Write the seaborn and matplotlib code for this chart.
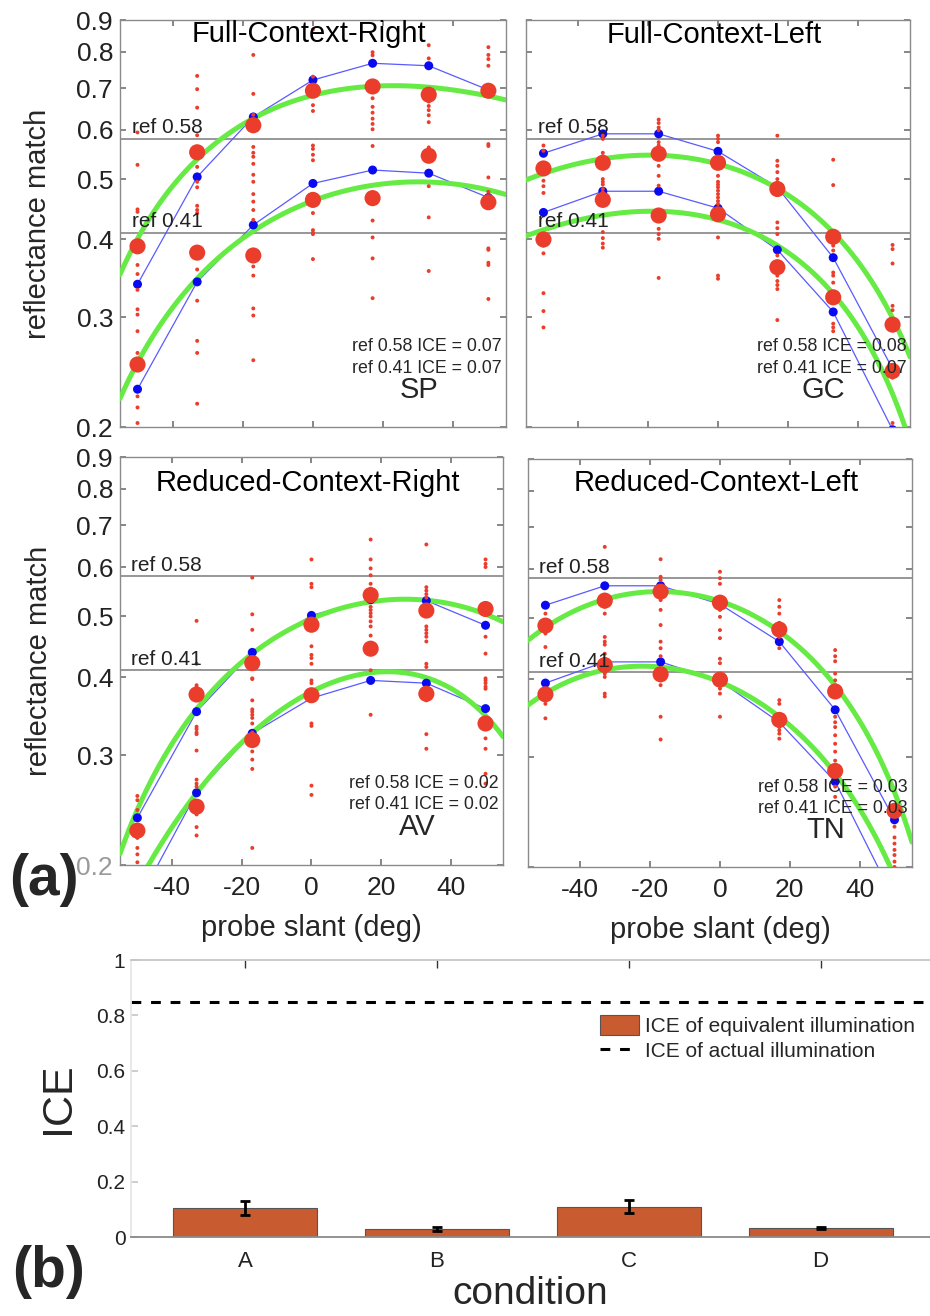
import numpy as np
import pandas as pd
import matplotlib
matplotlib.use("Agg")
import matplotlib.pyplot as plt
import seaborn as sns
from matplotlib.ticker import NullLocator
from matplotlib.patches import Patch
from matplotlib.lines import Line2D

# ---------------- data (a) ----------------
slant = [-50, -33, -17, 0, 17, 33, 50]
fit_slant = [-55, -50, -33, -17, 0, 17, 33, 50, 55]

# SP : Full-Context-Right
sp_blue_hi = [0.339, 0.504, 0.629, 0.721, 0.767, 0.760, 0.695]
sp_blue_lo = [0.230, 0.342, 0.422, 0.492, 0.517, 0.511, 0.467]
sp_red_hi = [0.390, 0.552, 0.610, 0.693, 0.704, 0.683, 0.693]
sp_red_lo = [0.252, 0.381, 0.377, 0.463, 0.466, 0.545, 0.459]
sp_fit_hi = [0.351, 0.399, 0.543, 0.626, 0.677, 0.702, 0.705, 0.688, 0.662]
sp_fit_lo = [0.218, 0.258, 0.349, 0.410, 0.461, 0.486, 0.498, 0.483, 0.469]
sp_trials = [
    [0.594, 0.527, 0.447, 0.443, 0.364, 0.352, 0.332, 0.309, 0.303, 0.285, 0.263, 0.224, 0.215, 0.203],
    [0.732, 0.697, 0.651, 0.588, 0.523, 0.495, 0.485, 0.453, 0.446, 0.441, 0.358, 0.319, 0.275, 0.263, 0.218],
    [0.791, 0.685, 0.634, 0.563, 0.551, 0.543, 0.529, 0.508, 0.495, 0.473, 0.460, 0.446, 0.430, 0.379, 0.362,
     0.350, 0.310, 0.302, 0.256],
    [0.869, 0.730, 0.657, 0.643, 0.566, 0.559, 0.547, 0.536, 0.441, 0.414, 0.410, 0.408, 0.372],
    [0.799, 0.790, 0.674, 0.653, 0.639, 0.625, 0.613, 0.601, 0.565, 0.476, 0.429, 0.403, 0.373, 0.322],
    [0.820, 0.781, 0.666, 0.655, 0.645, 0.633, 0.617, 0.562, 0.558, 0.487, 0.434, 0.356],
    [0.814, 0.791, 0.779, 0.760, 0.569, 0.565, 0.503, 0.477, 0.387, 0.385, 0.367, 0.364, 0.321],
]

# GC : Full-Context-Left
gc_blue_hi = [0.550, 0.591, 0.591, 0.554, 0.485, 0.374, 0.248]
gc_blue_lo = [0.442, 0.478, 0.478, 0.449, 0.385, 0.306, 0.198]
gc_red_hi = [0.520, 0.531, 0.549, 0.531, 0.482, 0.404, 0.292]
gc_red_lo = [0.400, 0.463, 0.437, 0.439, 0.361, 0.323, 0.246]
gc_fit_hi = [0.500, 0.511, 0.532, 0.549, 0.532, 0.485, 0.405, 0.298, 0.262]
gc_fit_lo = [0.404, 0.416, 0.437, 0.444, 0.431, 0.390, 0.326, 0.232, 0.185]
gc_trials = [
    [0.566, 0.555, 0.497, 0.487, 0.475, 0.391, 0.380, 0.328, 0.307, 0.289],
    [0.587, 0.580, 0.551, 0.544, 0.500, 0.495, 0.490, 0.482, 0.476, 0.411, 0.402, 0.394, 0.388],
    [0.623, 0.615, 0.605, 0.599, 0.573, 0.566, 0.559, 0.525, 0.506, 0.488, 0.416, 0.408, 0.401, 0.347],
    [0.587, 0.580, 0.573, 0.522, 0.506, 0.495, 0.490, 0.485, 0.479, 0.473, 0.467, 0.461, 0.456, 0.403,
     0.350, 0.346],
    [0.587, 0.535, 0.525, 0.513, 0.500, 0.426, 0.417, 0.408, 0.377, 0.350, 0.343, 0.338, 0.333, 0.297],
    [0.537, 0.489, 0.396, 0.391, 0.384, 0.354, 0.350, 0.341, 0.293, 0.289, 0.285],
    [0.392, 0.386, 0.366, 0.313, 0.308, 0.240, 0.203],
]

# AV : Reduced-Context-Right
av_blue_hi = [0.238, 0.352, 0.438, 0.502, 0.532, 0.530, 0.484]
av_blue_lo = [0.174, 0.261, 0.325, 0.370, 0.395, 0.391, 0.356]
av_red_hi = [0.227, 0.375, 0.421, 0.485, 0.541, 0.511, 0.514]
av_red_lo = [0.170, 0.248, 0.317, 0.374, 0.444, 0.376, 0.337]
av_fit_hi = [0.210, 0.242, 0.358, 0.437, 0.493, 0.527, 0.532, 0.508, 0.487]
av_fit_lo = [0.167, 0.186, 0.254, 0.325, 0.388, 0.407, 0.392, 0.345, 0.325]
av_trials = [
    [0.258, 0.254, 0.245, 0.221, 0.213, 0.208, 0.202],
    [0.492, 0.420, 0.388, 0.385, 0.333, 0.330, 0.326, 0.324, 0.305, 0.274, 0.270, 0.267, 0.244, 0.241,
     0.230, 0.223],
    [0.577, 0.504, 0.476, 0.398, 0.397, 0.367, 0.355, 0.352, 0.348, 0.344, 0.337, 0.326, 0.321, 0.316,
     0.312, 0.304, 0.295, 0.285, 0.213],
    [0.617, 0.564, 0.557, 0.448, 0.434, 0.429, 0.420, 0.395, 0.391, 0.337, 0.334, 0.268, 0.259],
    [0.664, 0.617, 0.597, 0.582, 0.564, 0.554, 0.518, 0.512, 0.506, 0.500, 0.491, 0.482, 0.466, 0.453,
     0.410, 0.348],
    [0.652, 0.557, 0.550, 0.543, 0.536, 0.508, 0.482, 0.476, 0.470, 0.464, 0.456, 0.420, 0.415, 0.367,
     0.324, 0.307],
    [0.617, 0.607, 0.600, 0.464, 0.436, 0.398, 0.395, 0.391, 0.386, 0.383, 0.319, 0.307, 0.280, 0.270],
]

# TN : Reduced-Context-Left
tn_blue_hi = [0.525, 0.564, 0.564, 0.527, 0.459, 0.357, 0.238]
tn_blue_lo = [0.394, 0.426, 0.426, 0.397, 0.341, 0.274, 0.177]
tn_red_hi = [0.487, 0.534, 0.552, 0.530, 0.480, 0.382, 0.246]
tn_red_lo = [0.378, 0.421, 0.407, 0.399, 0.344, 0.285, 0.180]
tn_fit_hi = [0.460, 0.486, 0.534, 0.554, 0.530, 0.482, 0.386, 0.265, 0.219]
tn_fit_lo = [0.365, 0.377, 0.414, 0.417, 0.399, 0.344, 0.284, 0.193, 0.163]
tn_trials = [
    [0.509, 0.494, 0.473, 0.450, 0.377, 0.365, 0.346],
    [0.651, 0.522, 0.509, 0.467, 0.459, 0.454, 0.439, 0.431, 0.413, 0.408, 0.403, 0.379, 0.375],
    [0.622, 0.583, 0.576, 0.535, 0.516, 0.488, 0.459, 0.448, 0.435, 0.398, 0.391, 0.348, 0.320],
    [0.594, 0.580, 0.568, 0.516, 0.503, 0.479, 0.465, 0.431, 0.424, 0.386, 0.379, 0.348],
    [0.535, 0.522, 0.509, 0.492, 0.467, 0.448, 0.370, 0.365, 0.335, 0.331, 0.327, 0.321],
    [0.445, 0.435, 0.427, 0.408, 0.398, 0.348, 0.341, 0.335, 0.325, 0.315, 0.306, 0.296, 0.289, 0.269, 0.259],
    [0.232, 0.223, 0.218, 0.213, 0.209, 0.204, 0.200],
]

refs = [0.58, 0.41]
yticks = [0.2, 0.3, 0.4, 0.5, 0.6, 0.7, 0.8, 0.9]
xticks = [-40, -20, 0, 20, 40]

# ---------------- data (b) ----------------
conditions = ['A', 'B', 'C', 'D']
ice_equiv = [0.105, 0.030, 0.110, 0.033]
ice_err = [0.025, 0.007, 0.022, 0.004]
ice_actual = 0.85

RED = '#ea3d2b'
BLUE = '#0a0af0'
GREEN = '#66ea44'
BAR = '#c95b30'

sns.set_theme(style='ticks')
plt.rcParams['font.family'] = ['Liberation Sans', 'DejaVu Sans']


def drawPanel(ax, title, title_y, subj, ice_txt, blue_hi, blue_lo, red_hi, red_lo,
              fit_hi, fit_lo, trials, left, bottom, txt_y):

    ax.set_yscale('log')
    for r in refs:
        ax.axhline(r, color='#7a7a7a', lw=1.1, zorder=1)
        ax.text(0.03, r * 1.006, 'ref %.2f' % r, transform=ax.get_yaxis_transform(),
                fontsize=15, ha='left', va='bottom', color='#222222', zorder=6)

    for b in [blue_hi, blue_lo]:
        ax.plot(slant, b, color='#5a5aff', lw=0.9, zorder=2)

    for f in [fit_hi, fit_lo]:
        sns.regplot(x=fit_slant, y=f, order=3, ci=None, scatter=False, truncate=True,
                    color=GREEN, line_kws=dict(lw=3.6, zorder=3), ax=ax)

    for b in [blue_hi, blue_lo]:
        sns.scatterplot(x=slant, y=b, color=BLUE, s=42, edgecolor='none', zorder=3.5, ax=ax)

    df = pd.DataFrame({'slant': np.repeat(slant, [len(t) for t in trials]),
                       'match': np.concatenate(trials)})
    sns.scatterplot(data=df, x='slant', y='match', color=RED, s=8, edgecolor='none',
                    zorder=4, ax=ax)

    for r in [red_hi, red_lo]:
        sns.scatterplot(x=slant, y=r, color=RED, s=135, edgecolor='none', zorder=5, ax=ax)

    ax.set_xlim(-55, 55)
    ax.set_ylim(0.2, 0.9)
    ax.set_yticks(yticks)
    ax.yaxis.set_minor_locator(NullLocator())
    ax.set_xticks(xticks)
    if left:
        ax.set_yticklabels(['%.1f' % v for v in yticks])
        ax.set_ylabel('reflectance match', fontsize=21)
        ax.yaxis.set_label_coords(-0.175, 0.5)
    else:
        ax.set_yticklabels([])
        ax.set_ylabel('')
    if bottom:
        ax.set_xticklabels([str(v) for v in xticks])
        ax.set_xlabel('probe slant (deg)', fontsize=21)
        ax.xaxis.set_label_coords(0.5, -0.12)
    else:
        ax.set_xticklabels([])
        ax.set_xlabel('')

    ax.tick_params(axis='both', direction='in', top=True, right=True, length=4,
                   color='#777777', labelsize=19, labelcolor='#222222')
    ax.tick_params(axis='y', pad=5)
    ax.tick_params(axis='x', pad=8)
    for s in ax.spines.values():
        s.set_color('#8a8a8a')
        s.set_linewidth(1.0)

    ax.text(0.49, title_y, title, transform=ax.transAxes, ha='center', va='center',
            fontsize=21, color='black', zorder=6)
    ax.text(0.99, txt_y, 'ref 0.58 ICE = %s' % ice_txt[0], transform=ax.transAxes,
            ha='right', va='center', fontsize=12.8, zorder=6)
    ax.text(0.99, txt_y - 0.052, 'ref 0.41 ICE = %s' % ice_txt[1], transform=ax.transAxes,
            ha='right', va='center', fontsize=12.8, zorder=6)
    ax.text(0.775, txt_y - 0.106, subj, transform=ax.transAxes, ha='center', va='center',
            fontsize=21, zorder=6)


fig = plt.figure(figsize=(9.3, 13.16), dpi=100)

ax1 = fig.add_axes([0.129, 0.6755, 0.415, 0.3093])
drawPanel(ax1, 'Full-Context-Right', 0.966, 'SP', ['0.07', '0.07'], sp_blue_hi, sp_blue_lo,
          sp_red_hi, sp_red_lo, sp_fit_hi, sp_fit_lo, sp_trials, True, False, 0.197)

ax2 = fig.add_axes([0.5656, 0.6755, 0.4129, 0.3093])
drawPanel(ax2, 'Full-Context-Left', 0.963, 'GC', ['0.08', '0.07'], gc_blue_hi, gc_blue_lo,
          gc_red_hi, gc_red_lo, gc_fit_hi, gc_fit_lo, gc_trials, False, False, 0.197)

ax3 = fig.add_axes([0.129, 0.3427, 0.4118, 0.310])
drawPanel(ax3, 'Reduced-Context-Right', 0.936, 'AV', ['0.02', '0.02'], av_blue_hi, av_blue_lo,
          av_red_hi, av_red_lo, av_fit_hi, av_fit_lo, av_trials, True, True, 0.200)
ax3.get_yticklabels()[0].set_color('#9a9a9a')

ax4 = fig.add_axes([0.5677, 0.3412, 0.4129, 0.310])
drawPanel(ax4, 'Reduced-Context-Left', 0.94, 'TN', ['0.03', '0.03'], tn_blue_hi, tn_blue_lo,
          tn_red_hi, tn_red_lo, tn_fit_hi, tn_fit_lo, tn_trials, False, True, 0.196)

fig.text(0.010, 1 - 880 / 1316, '(a)', fontsize=41, fontweight='bold', va='center', ha='left')

# ---------------- (b) bar chart ----------------
axb = fig.add_axes([0.1409, 0.060, 0.8591, 0.2105])
sns.barplot(x=conditions, y=ice_equiv, color=BAR, saturation=1, width=0.75, errorbar=None,
            edgecolor='#555555', linewidth=0.8, zorder=2, ax=axb)
axb.errorbar(range(len(conditions)), ice_equiv, yerr=ice_err, fmt='none', ecolor='black',
             elinewidth=2, capsize=3.5, capthick=2, zorder=3)
axb.axhline(ice_actual, color='black', lw=2.2, ls=(0, (3.2, 3.2)), zorder=2)

axb.set_xlim(-0.594, 3.57)
axb.set_ylim(0, 1)
axb.set_yticks([0, 0.2, 0.4, 0.6, 0.8, 1.0])
axb.set_yticklabels(['0', '0.2', '0.4', '0.6', '0.8', '1'])
axb.tick_params(axis='y', direction='in', length=5, color='#c8c8c8', labelsize=15,
                labelcolor='#222222', pad=4)
axb.tick_params(axis='x', direction='in', top=True, length=6, color='#333333', width=1,
                labelsize=16, labelcolor='#222222', pad=10)
axb.spines['right'].set_visible(False)
axb.spines['top'].set_color('#c4c4c4')
axb.spines['left'].set_color('#e6e6e6')
axb.spines['bottom'].set_color('#8a8a8a')
axb.spines['bottom'].set_linewidth(1.3)
axb.set_ylabel('ICE', fontsize=31)
axb.yaxis.set_label_coords(-0.066, 0.5)
axb.set_xlabel('condition', fontsize=28)
axb.xaxis.set_label_coords(0.5, -0.14)

handles = [Patch(facecolor=BAR, edgecolor='#555555', linewidth=0.8),
           Line2D([0], [0], color='black', lw=2.2, ls=(0, (3.2, 3.2)))]
axb.legend(handles, ['ICE of equivalent illumination', 'ICE of actual illumination'],
           loc='upper right', bbox_to_anchor=(1.0, 0.855), frameon=False, fontsize=15,
           handlelength=1.9, handleheight=1.1, handletextpad=0.3, labelspacing=0.2,
           borderpad=0.2)

fig.text(0.013, 1 - 1272 / 1316, '(b)', fontsize=41, fontweight='bold', va='center', ha='left')

fig.savefig('out.png', dpi=100)
